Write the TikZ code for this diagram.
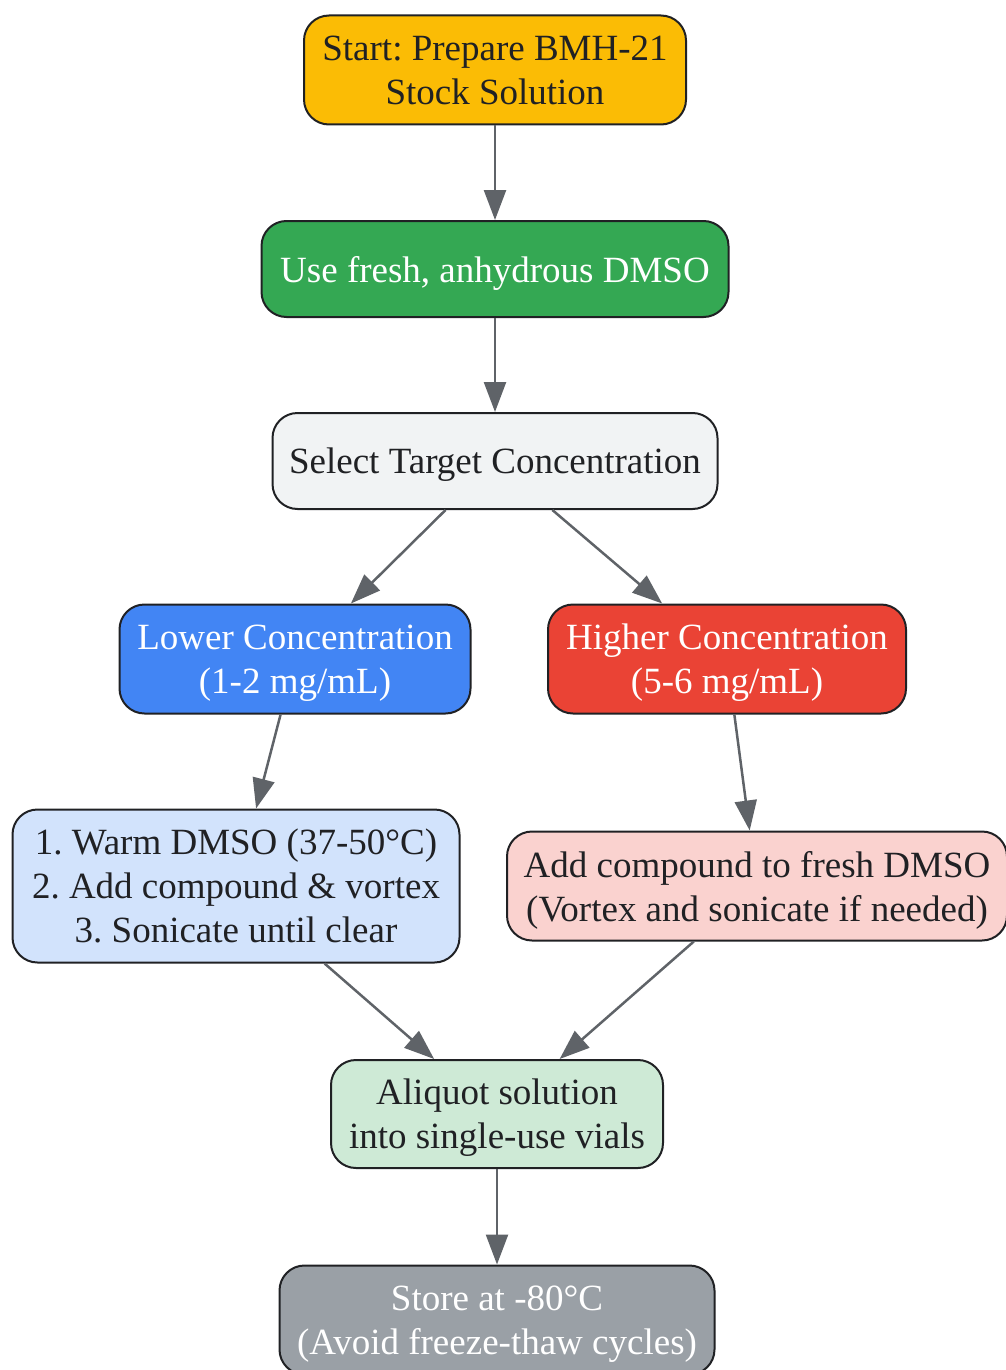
\documentclass[tikz,border=0pt]{standalone}
\usepackage{fontspec}
\setmainfont{Liberation Serif}
\frenchspacing
\usetikzlibrary{arrows.meta}
\definecolor{cyel}{HTML}{FBBC05}
\definecolor{cgrn}{HTML}{34A853}
\definecolor{cgry}{HTML}{F1F3F4}
\definecolor{cblu}{HTML}{4285F4}
\definecolor{cred}{HTML}{EA4335}
\definecolor{clblu}{HTML}{D2E3FC}
\definecolor{clred}{HTML}{FAD2CF}
\definecolor{clgrn}{HTML}{CEEAD6}
\definecolor{cdgry}{HTML}{9AA0A6}
\definecolor{cline}{HTML}{5F6368}
\definecolor{ctxt}{HTML}{202124}
\tikzset{
  box/.style={draw=ctxt, line width=2pt, rounded corners=25pt, align=center,
    text=ctxt, font=\fontsize{37}{44}\selectfont, inner sep=0pt, text depth=-6pt},
  flow/.style={draw=cline, line width=2.5pt, -{Triangle[length=30pt,width=22pt]}}
}
\begin{document}
\begin{tikzpicture}[x=1pt,y=-1pt]
\useasboundingbox (0,0) rectangle (1006,1370);
\node (start) at (495,70)[box,fill=cyel,minimum width=382pt,minimum height=109pt]{Start: Prepare BMH-21\\Stock Solution};
\node (dmso) at (495,269)[box,fill=cgrn,text=white,minimum width=467pt,minimum height=96pt]{Use fresh, anhydrous DMSO};
\node (sel) at (495,461)[box,fill=cgry,minimum width=445pt,minimum height=96pt]{Select Target Concentration};
\node (low) at (295,659)[box,fill=cblu,text=white,minimum width=351pt,minimum height=109pt]{Lower Concentration\\(1-2 mg/mL)};
\node (high) at (727,659)[box,fill=cred,text=white,minimum width=358pt,minimum height=109pt]{Higher Concentration\\(5-6 mg/mL)};
\node (warm) at (236,886)[box,fill=clblu,minimum width=447pt,minimum height=153pt]{1. Warm DMSO (37-50°C)\\2. Add compound \& vortex\\3. Sonicate until clear};
\node (add) at (757,886)[box,fill=clred,minimum width=500pt,minimum height=109pt]{Add compound to fresh DMSO\\(Vortex and sonicate if needed)};
\node (aliq) at (497,1114)[box,fill=clgrn,minimum width=332pt,minimum height=108pt]{Aliquot solution\\into single-use vials};
\node (store) at (497,1320)[box,fill=cdgry,text=white,minimum width=435pt,minimum height=109pt]{Store at -80°C\\(Avoid freeze-thaw cycles)};
\foreach \a/\b in {start/dmso,dmso/sel,sel/low,sel/high,low/warm,high/add,warm/aliq,add/aliq,aliq/store}
{
\draw[flow] (\a) -- (\b);
}
\end{tikzpicture}
\end{document}
